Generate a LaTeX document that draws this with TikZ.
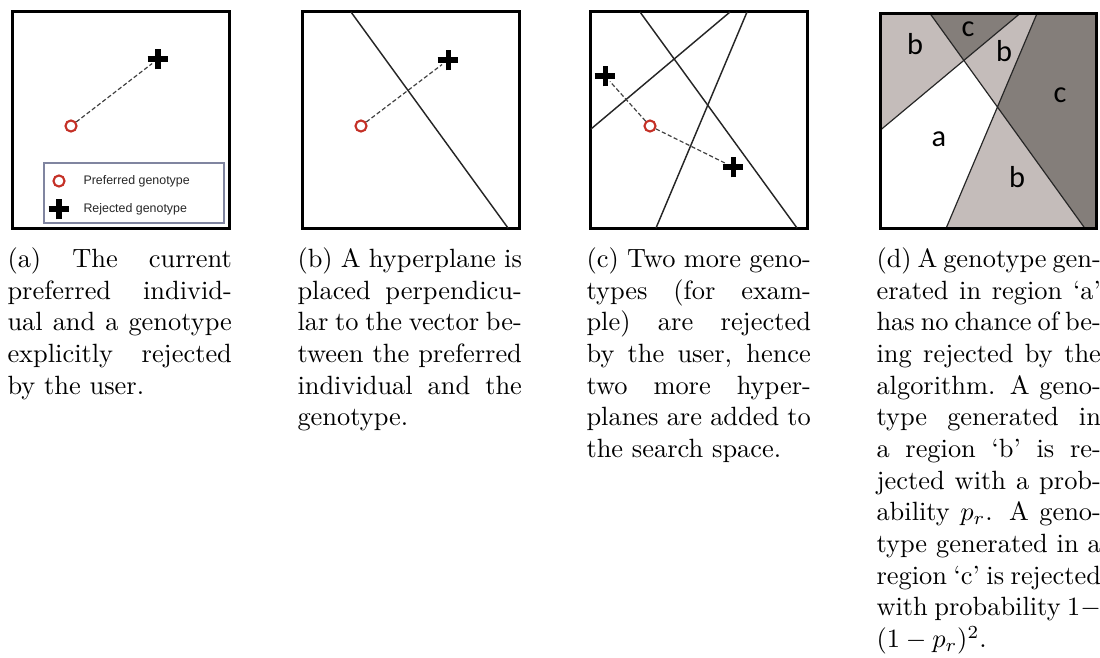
\documentclass[tikz,border=0pt]{standalone}
\usepackage{amsmath,amssymb}
\usepackage{fontspec}
\newfontfamily\calibrifont{Carlito}
\newfontfamily\arialfont{Liberation Sans}
\usepackage{tikz}
\usetikzlibrary{shapes.misc}
\definecolor{prefred}{RGB}{196,48,38}
\definecolor{regb}{RGB}{196,188,186}
\definecolor{regc}{RGB}{132,126,122}
\definecolor{legframe}{RGB}{128,133,160}
\newcommand{\capline}[1]{{\spaceskip=0pt\xspaceskip=0pt\makebox[85pt][s]{#1}}}

\begin{document}
\begin{tikzpicture}[
  x=0.3788pt, y=-0.3788pt,
  panel/.style={draw, line width=1.15pt},
  plane/.style={draw=black!85, line width=0.55pt},
  pref/.style={circle, draw=prefred, line width=0.8pt, minimum size=4.2pt, inner sep=0pt},
  rej/.style={cross out, draw, line width=1.9pt, rotate=45, minimum size=3.7pt, inner sep=0pt},
  conn/.style={draw=black!75, line width=0.45pt, dash pattern=on 1.6pt off 0.9pt},
  captxt/.style={anchor=base west, text width=92pt, align=left, inner sep=0pt,
                 font=\fontsize{10}{12}\selectfont},
  lbl/.style={anchor=base, inner sep=0pt, font=\calibrifont\fontsize{11.5}{13}\selectfont},
  legtxt/.style={anchor=west, inner sep=0pt, text=black!85,
                 font=\arialfont\fontsize{4.7}{5}\selectfont}
]
  \useasboundingbox (0,0) rectangle (1100,657);

  % (a) preferred and rejected genotype
  \draw[panel] (12.5,11.5) rectangle (229.5,228.5);
  \node[pref] (pa) at (71,126) {};
  \node[rej] (ra) at (158,59) {};
  \draw[conn] (pa) -- (ra);
  \draw[legframe, line width=0.4pt] (44,163) rectangle (224,223);
  \node[pref] (legp) at (59,181) {};
  \node[rej] (legr) at (59,209) {};
  \node[legtxt] (legpt) at (83,181) {Preferred genotype};
  \node[legtxt] (legrt) at (83,209) {Rejected genotype};

  % (b) one hyperplane
  \draw[panel] (302.5,11.5) rectangle (519.5,228.5);
  \draw[plane] (351,12) -- (508,228);
  \node[pref] (pb) at (361,126) {};
  \node[rej] (rb) at (448,60) {};
  \draw[conn] (pb) -- (rb);

  % (c) three hyperplanes
  \draw[panel] (590.5,11.5) rectangle (807.5,228.5);
  \draw[plane] (640,12) -- (797,228);
  \draw[plane] (730,12) -- (591,129);
  \draw[plane] (747,12) -- (656,228);
  \node[pref] (pc) at (650,126) {};
  \node[rej] (rc1) at (605,76) {};
  \node[rej] (rc2) at (733,167) {};
  \draw[conn] (pc) -- (rc1);
  \draw[conn] (pc) -- (rc2);

  % (d) regions
  \coordinate (t1) at (930,13.5);
  \coordinate (b1) at (1085,228.5);
  \coordinate (t2) at (1020,13.5);
  \coordinate (l2) at (880.5,130);
  \coordinate (t3) at (1037,13.5);
  \coordinate (b3) at (946,228.5);
  \coordinate (x12) at (intersection of t1--b1 and t2--l2);
  \coordinate (x13) at (intersection of t1--b1 and t3--b3);
  \fill[regb] (880.5,13.5) -- (t1) -- (x12) -- (l2) -- cycle;
  \fill[regc] (t1) -- (t2) -- (x12) -- cycle;
  \fill[regb] (t2) -- (t3) -- (x13) -- (x12) -- cycle;
  \fill[regc] (t3) -- (1096.5,13.5) -- (1096.5,228.5) -- (b1) -- (x13) -- cycle;
  \fill[regb] (x13) -- (b1) -- (b3) -- cycle;
  \draw[plane, line width=0.45pt] (t1) -- (b1) (t2) -- (l2) (t3) -- (b3);
  \draw[panel] (880.5,13.5) rectangle (1096.5,228.5);
  \node[lbl] (lb1) at (915,55) {b};
  \node[lbl] (lc1) at (968,37) {c};
  \node[lbl] (lb2) at (1004,62) {b};
  \node[lbl] (lc2) at (1060,102) {c};
  \node[lbl] (la) at (939,147) {a};
  \node[lbl] (lb3) at (1017,187) {b};

  % captions
  \node[captxt] (capa) at (7,267.5) {\capline{(a) The current}\\
    \capline{preferred individ-}\\ \capline{ual and a genotype}\\
    \capline{explicitly rejected}\\ by the user.};
  \node[captxt] (capb) at (297,267.5) {\capline{(b) A hyperplane is}\\
    \capline{placed perpendicu-}\\ \capline{lar to the vector be-}\\
    \capline{tween the preferred}\\ \capline{individual and the}\\ genotype.};
  \node[captxt] (capc) at (586,267.5) {\capline{(c) Two more geno-}\\
    \capline{types (for exam-}\\ \capline{ple) are rejected}\\
    \capline{by the user, hence}\\ \capline{two more hyper-}\\
    \capline{planes are added to}\\ the search space.};
  \node[captxt] (capd) at (876,267.5) {\capline{(d) A genotype gen-}\\
    \capline{erated in region `a'}\\ \capline{has no chance of be-}\\
    \capline{ing rejected by the}\\ \capline{algorithm. A geno-}\\
    \capline{type generated in}\\ \capline{a region `b' is re-}\\
    \capline{jected with a prob-}\\ \capline{ability $p_r$. A geno-}\\
    \capline{type generated in a}\\ \capline{region `c' is rejected}\\
    \capline{with probability $1-$}\\ $(1-p_r)^2$.};
\end{tikzpicture}
\end{document}
